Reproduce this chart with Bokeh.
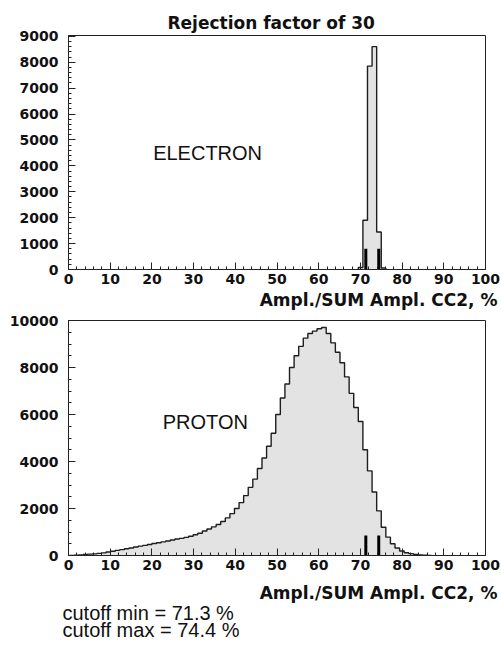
import numpy as np
from bokeh.plotting import figure
from bokeh.layouts import column
from bokeh.models import Range1d, FixedTicker, Label, Title
from bokeh.embed import file_html
from bokeh.resources import INLINE

# ---------------- data ----------------
title_text = "Rejection factor of 30"
x_axis_title = "Ampl./SUM Ampl. CC2, %"
bin_width = 1.1

electron_first_edge = 69.5
electron_counts = [80, 1900, 7850, 8600, 1450, 60]

proton_first_edge = 0.2
proton_counts = [
    0, 10, 20, 40, 60, 70, 90, 110, 150, 180,
    220, 250, 290, 320, 360, 400, 430, 470, 510, 540,
    580, 620, 660, 700, 730, 770, 820, 880, 950, 1040,
    1130, 1220, 1320, 1450, 1600, 1780, 2000, 2250, 2550, 2900,
    3250, 3700, 4150, 4650, 5200, 6000, 6700, 7300, 8000, 8500,
    8900, 9250, 9450, 9550, 9650, 9700, 9450, 9050, 8650, 8200,
    7600, 6900, 6300, 5700, 4500, 3600, 2700, 1900, 1200, 780,
    500, 320, 190, 120, 80, 50, 25, 10, 0,
]

cutoff_min = 71.3
cutoff_max = 74.4
marker_top_e = 800
marker_top_p = 850

x_ticks = [0, 10, 20, 30, 40, 50, 60, 70, 80, 90, 100]
x_minor = list(range(0, 101, 2))
y1_ticks = [0, 1000, 2000, 3000, 4000, 5000, 6000, 7000, 8000, 9000]
y1_minor = list(range(0, 9001, 200))
y2_ticks = [0, 2000, 4000, 6000, 8000, 10000]
y2_minor = list(range(0, 10001, 500))

# ---------------- styling ----------------
BOLD_FONT = "DejaVu Sans"
LABEL_FONT = "Liberation Sans"
FILL = "#e3e3e3"
LINE = "#1e1e1e"
TXT = "#111111"


def style(p, yticks, yminor):
    p.xaxis.ticker = FixedTicker(ticks=x_ticks, minor_ticks=x_minor)
    p.yaxis.ticker = FixedTicker(ticks=yticks, minor_ticks=yminor)
    p.grid.visible = False
    p.outline_line_color = "#222222"
    p.outline_line_width = 1
    for ax in (p.xaxis[0], p.yaxis[0]):
        ax.axis_line_color = "#222222"
        ax.major_tick_line_color = "#222222"
        ax.minor_tick_line_color = "#222222"
        ax.major_tick_in = 7
        ax.major_tick_out = 0
        ax.minor_tick_in = 3
        ax.minor_tick_out = 0
        ax.major_label_text_font = BOLD_FONT
        ax.major_label_text_font_style = "bold"
        ax.major_label_text_font_size = "14px"
        ax.major_label_text_color = TXT
    p.xaxis.major_label_standoff = 4
    p.yaxis.major_label_standoff = 10


def draw_hist(p, first_edge, counts):
    edges = first_edge + bin_width * np.arange(len(counts) + 1)
    xs = np.concatenate([[edges[0]], edges])
    ys = np.concatenate([[0], counts, [0]])
    p.varea_step(x=xs, y1=0, y2=ys, step_mode="after", fill_color=FILL)
    p.step(x=xs, y=ys, mode="after", line_color=LINE, line_width=1.4)


def axis_title(standoff):
    return Title(text=x_axis_title, align="right", offset=-12,
                 standoff=standoff, text_font=BOLD_FONT,
                 text_font_style="bold", text_font_size="17px",
                 text_color=TXT)


def note(text, standoff):
    return Title(text=text, align="left", offset=-6, standoff=standoff,
                 text_font=LABEL_FONT, text_font_style="normal",
                 text_font_size="20px", text_color=TXT)


# ---------------- top panel (page y 0..312) ----------------
p1 = figure(width=501, height=312, output_backend="svg", toolbar_location=None,
            min_border_left=68, min_border_right=16, min_border_top=35,
            min_border_bottom=43, x_range=Range1d(0, 100),
            y_range=Range1d(0, 9030))
style(p1, y1_ticks, y1_minor)
p1.title = Title(text=title_text, align="left", offset=99,
                 text_font=BOLD_FONT, text_font_style="bold",
                 text_font_size="17px", text_color=TXT, standoff=6)
draw_hist(p1, electron_first_edge, electron_counts)
p1.segment(x0=[cutoff_min, cutoff_max], y0=[0, 0],
           x1=[cutoff_min, cutoff_max], y1=[marker_top_e, marker_top_e],
           line_color="black", line_width=3)
p1.add_layout(Label(x=20.3, y=4500, text="ELECTRON", text_align="left",
                    text_baseline="middle", text_font=LABEL_FONT,
                    text_font_size="20px", text_color=TXT))
p1.add_layout(axis_title(2), "below")

# ---------------- bottom panel (page y 312..645) ----------------
p2 = figure(width=501, height=333, output_backend="svg", toolbar_location=None,
            min_border_left=68, min_border_right=16, min_border_top=8,
            min_border_bottom=90, x_range=Range1d(0, 100),
            y_range=Range1d(0, 10000))
style(p2, y2_ticks, y2_minor)
draw_hist(p2, proton_first_edge, proton_counts)
p2.segment(x0=[cutoff_min, cutoff_max], y0=[0, 0],
           x1=[cutoff_min, cutoff_max], y1=[marker_top_p, marker_top_p],
           line_color="black", line_width=3)
p2.add_layout(Label(x=22.6, y=5670, text="PROTON", text_align="left",
                    text_baseline="middle", text_font=LABEL_FONT,
                    text_font_size="20px", text_color=TXT))
p2.add_layout(axis_title(16), "below")
p2.add_layout(note("cutoff min = %.1f %%" % cutoff_min, -21), "below")
p2.add_layout(note("cutoff max = %.1f %%" % cutoff_max, 7), "below")

layout = column(p1, p2, spacing=0)
open("out.html", "w").write(file_html(layout, INLINE))
